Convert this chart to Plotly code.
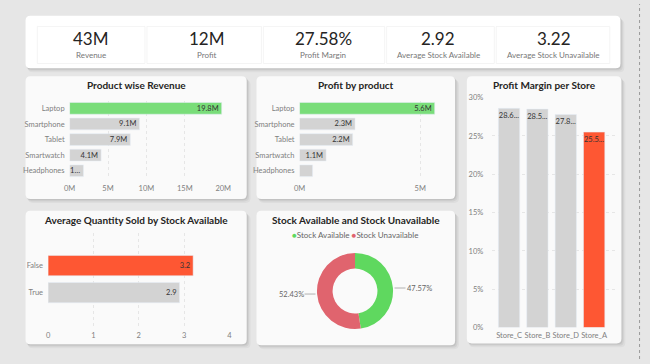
import numpy as np
import plotly.graph_objects as go

W, H = 650, 364

# ---------------- data ----------------
kpi_values = ["43M", "12M", "27.58%", "2.92", "3.22"]
kpi_names = ["Revenue", "Profit", "Profit Margin", "Average Stock Available", "Average Stock Unavailable"]

products = ["Laptop", "Smartphone", "Tablet", "Smartwatch", "Headphones"]
revenue_m = [19.8, 9.1, 7.9, 4.1, 1.8]
revenue_labels = ["19.8M", "9.1M", "7.9M", "4.1M", "1…"]
profit_m = [5.6, 2.3, 2.2, 1.1, 0.54]
profit_labels = ["5.6M", "2.3M", "2.2M", "1.1M", ""]

stores = ["Store_C", "Store_B", "Store_D", "Store_A"]
store_margin = [28.6, 28.5, 27.8, 25.5]
store_labels = ["28.6...", "28.5...", "27.8...", "25.5..."]

stock_flags = ["False", "True"]
avg_qty = [3.2, 2.9]
avg_qty_labels = ["3.2", "2.9"]

stock_names = ["Stock Available", "Stock Unavailable"]
stock_share = [47.57, 52.43]

# ---------------- styles ----------------
GREEN = "#79dd79"
GREY = "#d3d3d3"
ORANGE = "#fe5733"
PIE_GREEN = "#5fd85f"
PIE_RED = "#e0646e"
BG = "#e6e6e6"
CARD = "#fafafa"
FONT = "Lato"
TICK = dict(family=FONT, size=7.5, color="#808080")
LBL = dict(family=FONT, size=7.5, color="#333333")


def px(x):
    return x / W


def py(y):
    return 1 - y / H


def rrect(x0, y0, x1, y1, r=4):
    X = lambda v: f"{px(v):.5f}"
    Y = lambda v: f"{py(v):.5f}"
    return (f"M {X(x0 + r)},{Y(y0)} L {X(x1 - r)},{Y(y0)} Q {X(x1)},{Y(y0)} {X(x1)},{Y(y0 + r)} "
            f"L {X(x1)},{Y(y1 - r)} Q {X(x1)},{Y(y1)} {X(x1 - r)},{Y(y1)} L {X(x0 + r)},{Y(y1)} "
            f"Q {X(x0)},{Y(y1)} {X(x0)},{Y(y1 - r)} L {X(x0)},{Y(y0 + r)} Q {X(x0)},{Y(y0)} {X(x0 + r)},{Y(y0)} Z")


shapes = []
cards = [
    (20, 12, 628, 66, "#ffffff"),
    (20, 74, 246, 200, CARD),
    (256, 74, 459, 200, CARD),
    (471, 74, 629, 348, CARD),
    (20, 212, 246, 349, CARD),
    (256, 212, 459, 350, CARD),
]
for (x0, y0, x1, y1, col) in cards:
    for off, alpha in [(4, 0.035), (2.5, 0.05), (1.2, 0.07)]:
        shapes.append(dict(type="path", xref="paper", yref="paper", layer="below",
                           path=rrect(x0 + off * 0.6, y0 + off, x1 + off, y1 + off, 5),
                           fillcolor=f"rgba(0,0,0,{alpha})", line=dict(width=0)))
    shapes.append(dict(type="path", xref="paper", yref="paper", layer="below",
                       path=rrect(x0, y0, x1, y1, 5), fillcolor=col, line=dict(width=0)))

# KPI inner boxes
kpi_edges = [31, 143, 262, 388, 500, 618]
for i in range(5):
    shapes.append(dict(type="rect", xref="paper", yref="paper", layer="below",
                       x0=px(kpi_edges[i] + 1), x1=px(kpi_edges[i + 1] - 1), y0=py(61), y1=py(23),
                       fillcolor="#ffffff", line=dict(color="#f1f1f1", width=0.8)))

# page dotted border on right
shapes.append(dict(type="line", xref="paper", yref="paper", x0=px(647.5), x1=px(647.5), y0=0, y1=1,
                   line=dict(color="#9a9a9a", width=1, dash="dot")))

annotations = []
kpi_centers = [87, 205, 324, 442, 560]
for c, v, n in zip(kpi_centers, kpi_values, kpi_names):
    annotations.append(dict(x=px(c), y=py(35), xref="paper", yref="paper", text=v, showarrow=False,
                            font=dict(family=FONT, size=17, color="#252423"), xanchor="center", yanchor="middle"))
    annotations.append(dict(x=px(c), y=py(52), xref="paper", yref="paper", text=n, showarrow=False,
                            font=dict(family=FONT, size=8, color="#777777"), xanchor="center", yanchor="middle"))

titles = [
    ("Product wise Revenue", 133, 83),
    ("Profit by product", 357.5, 83),
    ("Profit Margin per Store", 550, 83),
    ("Average Quantity Sold by Stock Available", 133, 221),
    ("Stock Available and Stock Unavailable", 357.5, 221),
]
for t, x, y in titles:
    annotations.append(dict(x=px(x), y=py(y), xref="paper", yref="paper", text=f"<b>{t}</b>", showarrow=False,
                            font=dict(family=FONT, size=10, color="#252423"), xanchor="center", yanchor="middle"))

# legend for donut
annotations.append(dict(x=px(357), y=py(237), xref="paper", yref="paper", showarrow=False,
                        text=(f'<span style="color:{PIE_GREEN}">●</span>{stock_names[0]} '
                              f'<span style="color:{PIE_RED}">●</span>{stock_names[1]}'),
                        font=dict(family=FONT, size=8, color="#666666"), xanchor="center", yanchor="middle"))

# ---------------- traces ----------------
fig = go.Figure()

fig.add_trace(go.Bar(x=revenue_m, y=products, orientation="h", xaxis="x", yaxis="y",
                     marker=dict(color=[GREEN if v == max(revenue_m) else GREY for v in revenue_m]),
                     text=revenue_labels, textposition="inside", insidetextanchor="end",
                     constraintext="none", textangle=0, textfont=LBL, hoverinfo="skip"))

fig.add_trace(go.Bar(x=profit_m, y=products, orientation="h", xaxis="x2", yaxis="y2",
                     marker=dict(color=[GREEN if v == max(profit_m) else GREY for v in profit_m]),
                     text=profit_labels, textposition="inside", insidetextanchor="end",
                     constraintext="none", textangle=0, textfont=LBL, hoverinfo="skip"))

fig.add_trace(go.Bar(x=stores, y=store_margin, xaxis="x3", yaxis="y3",
                     marker=dict(color=[ORANGE if v == min(store_margin) else GREY for v in store_margin]),
                     text=store_labels, textposition="inside", insidetextanchor="end",
                     constraintext="none", textangle=0, textfont=LBL, hoverinfo="skip"))

fig.add_trace(go.Bar(x=avg_qty, y=stock_flags, orientation="h", xaxis="x4", yaxis="y4",
                     marker=dict(color=[ORANGE if v == max(avg_qty) else GREY for v in avg_qty]),
                     text=avg_qty_labels, textposition="inside", insidetextanchor="end",
                     constraintext="none", textangle=0, textfont=LBL, hoverinfo="skip"))

CX, CY, R = 356.7, 294.3, 39
fig.add_trace(go.Pie(values=stock_share, labels=stock_names, hole=0.59, sort=False,
                     direction="clockwise", rotation=0, textinfo="none", showlegend=False,
                     marker=dict(colors=[PIE_GREEN, PIE_RED], line=dict(width=0)),
                     domain=dict(x=[px(CX - R), px(CX + R)], y=[py(CY + R), py(CY - R)]),
                     hoverinfo="skip"))

# donut percentage labels with leader lines, positioned from data angles
cum = np.cumsum([0] + stock_share[:-1])
total = sum(stock_share)
for v, c in zip(stock_share, cum):
    th = np.deg2rad((c + v / 2) / total * 360)
    ex = CX + (R + 1.5) * np.sin(th)
    ey = CY - (R + 1.5) * np.cos(th)
    right = np.sin(th) > 0
    annotations.append(dict(x=px(ex), y=py(ey), xref="paper", yref="paper", text=f"{v:.2f}%",
                            showarrow=True, arrowhead=0, arrowwidth=0.8, arrowcolor="#a0a0a0",
                            ax=11 if right else -11, ay=0, xanchor="left" if right else "right",
                            font=dict(family=FONT, size=7.5, color="#666666"), borderpad=0))

# ---------------- axes ----------------
grid = dict(showgrid=True, gridcolor="#e6e6e6", griddash="dot", gridwidth=1, zeroline=False, showline=False)
nogrid = dict(showgrid=False, zeroline=False, showline=False)

fig.update_layout(
    width=W, height=H, margin=dict(l=0, r=0, t=0, b=0),
    paper_bgcolor=BG, plot_bgcolor="rgba(0,0,0,0)",
    showlegend=False, shapes=shapes, annotations=annotations,
    font=dict(family=FONT),
    xaxis=dict(domain=[px(65), px(222)], anchor="y", range=[0, 20], dtick=5, ticksuffix="M",
               tickfont=TICK, ticklabelstandoff=4, **grid),
    yaxis=dict(domain=[py(179), py(99)], anchor="x", autorange="reversed", tickfont=TICK,
               ticklabelstandoff=4, **nogrid),
    xaxis2=dict(domain=[px(300), px(445.5)], anchor="y2", range=[0, 5.9], dtick=5, ticksuffix="M",
                tickfont=TICK, ticklabelstandoff=4, **grid),
    yaxis2=dict(domain=[py(179), py(99)], anchor="x2", autorange="reversed", tickfont=TICK,
                ticklabelstandoff=4, **nogrid),
    xaxis3=dict(domain=[px(497), px(624)], anchor="y3", range=[-0.59, 3.79], tickfont=TICK,
                tickangle=0, ticklabelstandoff=2, **nogrid),
    yaxis3=dict(domain=[py(331.7), py(96)], anchor="x3", range=[0, 30], dtick=5, ticksuffix="%",
                tickfont=TICK, ticklabelstandoff=8, **grid),
    xaxis4=dict(domain=[px(43), px(228.3)], anchor="y4", range=[0, 4], dtick=1, tickfont=TICK,
                ticklabelstandoff=4, **grid),
    yaxis4=dict(domain=[py(330), py(235)], anchor="x4", range=[-1.23, 2.2], tickfont=TICK,
                categoryorder="array", categoryarray=["True", "False"], ticklabelstandoff=4, **nogrid),
    bargap=0.25,
)

fig.write_html("out.html", config={"displayModeBar": False},
               post_script="document.body.style.margin='0';document.body.style.overflow='hidden';")
